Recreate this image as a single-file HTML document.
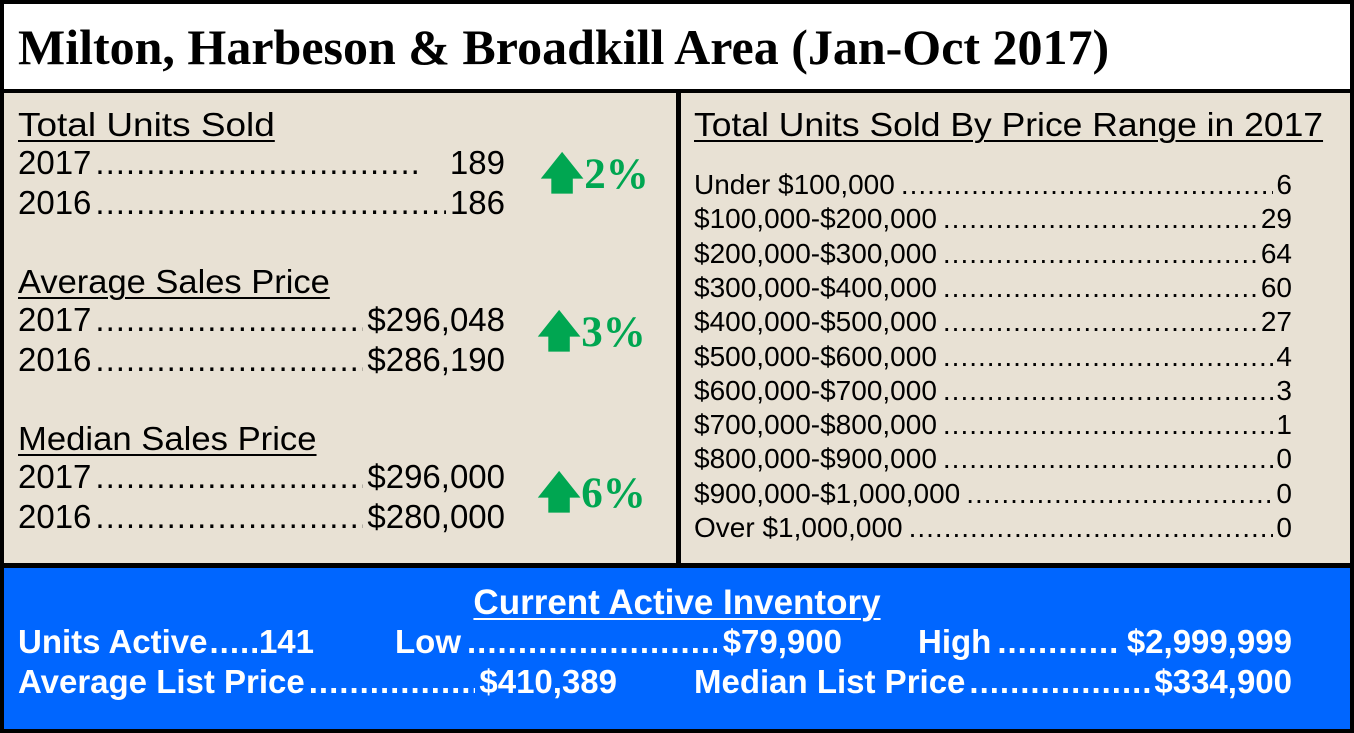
<!DOCTYPE html>
<html><head><meta charset="utf-8"><style>
*{margin:0;padding:0;box-sizing:border-box}
body{width:1354px;height:733px;background:#000;position:relative;overflow:hidden;font-family:"Liberation Sans",sans-serif}
.box{position:absolute}
.t{position:absolute;white-space:nowrap;line-height:1}
.r{position:absolute;display:flex;white-space:nowrap;line-height:1;align-items:baseline}
.r .f{flex:1;overflow:hidden;letter-spacing:1px;margin:0 4px}
u{text-decoration-thickness:2px;text-underline-offset:4px}
.g{color:#00a651;font-family:"Liberation Serif",serif;font-weight:bold;font-size:43px}
.w{color:#fff;font-weight:bold}
.sx{transform-origin:0 0;transform:scaleX(1.12)}
</style></head><body>
<div class="box" style="left:4px;top:4px;width:1346px;height:85px;background:#fff"></div>
<div class="box" style="left:4px;top:93px;width:672px;height:470px;background:#e8e1d4"></div>
<div class="box" style="left:681px;top:93px;width:669px;height:470px;background:#e8e1d4"></div>
<div class="box" style="left:4px;top:568px;width:1346px;height:161px;background:#0066ff"></div>

<div class="t" style="left:18px;top:22px;font-family:'Liberation Serif',serif;font-weight:bold;font-size:50px">Milton, Harbeson &amp; Broadkill Area (Jan-Oct 2017)</div>

<div class="t sx" style="left:18px;top:108px;font-size:33px"><u>Total Units Sold</u></div>
<div class="r" style="left:18px;top:146px;width:487px;font-size:33px"><span>2017</span><span class="f">......................................................................................</span><span>&nbsp;&nbsp;&nbsp;189</span></div>
<div class="r" style="left:18px;top:186px;width:487px;font-size:33px"><span>2016</span><span class="f">......................................................................................</span><span>186</span></div>
<div class="t g" style="left:540px;top:153px">🡅2%</div>

<div class="t" style="left:18px;top:265px;font-size:33px;transform-origin:0 0;transform:scaleX(1.045)"><u>Average Sales Price</u></div>
<div class="r" style="left:18px;top:303px;width:487px;font-size:33px"><span>2017</span><span class="f">......................................................................................</span><span>$296,048</span></div>
<div class="r" style="left:18px;top:343px;width:487px;font-size:33px"><span>2016</span><span class="f">......................................................................................</span><span>$286,190</span></div>
<div class="t g" style="left:537px;top:311px">🡅3%</div>

<div class="t" style="left:18px;top:422px;font-size:33px;transform-origin:0 0;transform:scaleX(1.05)"><u>Median Sales Price</u></div>
<div class="r" style="left:18px;top:460px;width:487px;font-size:33px"><span>2017</span><span class="f">......................................................................................</span><span>$296,000</span></div>
<div class="r" style="left:18px;top:500px;width:487px;font-size:33px"><span>2016</span><span class="f">......................................................................................</span><span>$280,000</span></div>
<div class="t g" style="left:537px;top:472px">🡅6%</div>

<div class="t" style="left:694px;top:108px;font-size:33px;transform-origin:0 0;transform:scaleX(1.075)"><u>Total Units Sold By Price Range in 2017</u></div>
<div id="rows"></div>

<div class="t w" style="left:0;width:1354px;text-align:center;top:585px;font-size:35px"><u>Current Active Inventory</u></div>
<div class="r w" style="left:18px;top:625px;width:296px;font-size:33px"><span>Units Active</span><span class="f" style="margin:0 2px">..............</span><span>141</span></div>
<div class="r w" style="left:395px;top:625px;width:447px;font-size:33px"><span>Low</span><span class="f" style="margin:0 6px">..............................................................</span><span>$79,900</span></div>
<div class="r w" style="left:918px;top:625px;width:374px;font-size:33px"><span>High</span><span class="f" style="margin:0 6px">..............................................</span><span>$2,999,999</span></div>
<div class="r w" style="left:18px;top:665px;width:599px;font-size:33px"><span>Average List Price</span><span class="f" style="margin:0 4px">..............................................</span><span>$410,389</span></div>
<div class="r w" style="left:694px;top:665px;width:598px;font-size:33px"><span>Median List Price</span><span class="f" style="margin:0 4px">..............................................</span><span>$334,900</span></div>

<script>
var d=[["Under $100,000","6"],["$100,000-$200,000","29"],["$200,000-$300,000","64"],["$300,000-$400,000","60"],["$400,000-$500,000","27"],["$500,000-$600,000","4"],["$600,000-$700,000","3"],["$700,000-$800,000","1"],["$800,000-$900,000","0"],["$900,000-$1,000,000","0"],["Over $1,000,000","0"]];
var h="";d.forEach(function(x,i){h+='<div class="r" style="left:694px;top:'+(171+i*34.3)+'px;width:598px;font-size:28px"><span>'+x[0]+'</span><span class="f" style="margin:0 3px 0 6px">....................................................................................................</span><span>'+x[1]+'</span></div>';});
document.getElementById("rows").innerHTML=h;
</script>
</body></html>
